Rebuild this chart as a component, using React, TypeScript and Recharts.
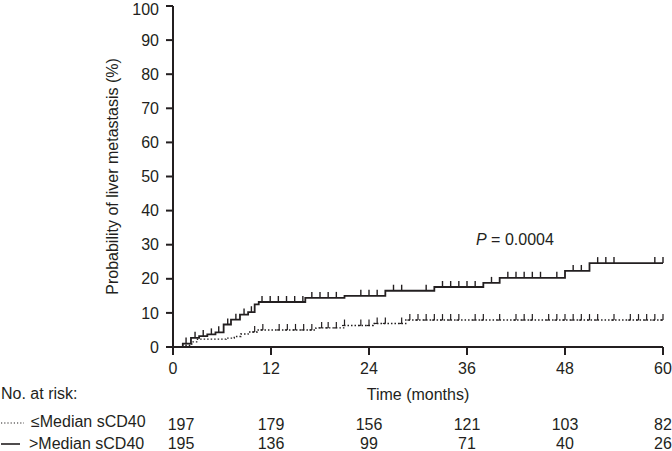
import React from "react";
import {
  ComposedChart,
  Line,
  Scatter,
  XAxis,
  YAxis,
} from "recharts";

// cumulative incidence (%) step points, >Median sCD40 (solid)
const highTimes = [0, 1.2, 2.2, 3.2, 4.2, 5.2, 6.2, 7.1, 8.2, 9.2, 10.0, 10.5, 16.2, 21.0, 26.0, 32.0, 38.0, 40.0, 48.0, 51.0, 60];
const highProb = [0, 1.0, 2.7, 3.2, 3.7, 4.3, 6.6, 8.0, 9.5, 10.2, 12.5, 13.2, 14.4, 15.0, 16.5, 17.6, 18.8, 20.3, 22.3, 24.6, 24.6];

// <=Median sCD40 (dotted)
const lowTimes = [0, 1.5, 2.3, 3.0, 6.5, 7.5, 8.3, 9.2, 10.3, 17.5, 21.0, 24.5, 28.5, 60];
const lowProb = [0, 0.5, 1.5, 2.3, 2.6, 3.1, 3.8, 4.4, 5.0, 5.6, 6.3, 6.9, 7.9, 7.9];

// censored observations (months)
const highCensor = [1.6, 2.7, 3.7, 4.7, 5.6, 6.7, 7.7, 8.7, 9.6, 10.9, 11.9, 12.9, 13.9, 14.9, 15.9, 17, 18, 19, 20, 23, 24, 25, 27, 28, 31, 33, 34, 35, 36, 37, 39, 41, 42, 43, 44, 45, 47, 49, 50, 52, 53, 54, 59, 60];
const lowCensor = [10, 11, 13, 14, 15, 16, 17, 18.2, 19, 20, 21, 23, 24, 25, 26, 28, 29, 30, 31, 32, 33, 34, 35, 37, 38, 40, 42, 43, 44, 46, 47, 48, 49, 50, 51, 52, 54, 56, 57, 58, 59, 60];

const months = [0, 12, 24, 36, 48, 60];
const atRiskLow = [197, 179, 156, 121, 103, 82];
const atRiskHigh = [195, 136, 99, 71, 40, 26];
const yTicks = [0, 10, 20, 30, 40, 50, 60, 70, 80, 90, 100];

const INK = "#231f20";
const FONT = "'Liberation Sans', Arial, Helvetica, sans-serif";

const toSeries = (ts: number[], ps: number[]) => ts.map((t, i) => ({ t, v: ps[i] }));

const stepAt = (ts: number[], ps: number[], t: number) => {
  let v = ps[0];
  for (let i = 0; i < ts.length; i++) if (ts[i] <= t) v = ps[i];
  return v;
};

const highData = toSeries(highTimes, highProb);
const lowData = toSeries(lowTimes, lowProb);
const highMarks = highCensor.map((t) => ({ t, v: stepAt(highTimes, highProb, t) }));
const lowMarks = lowCensor.map((t) => ({ t, v: stepAt(lowTimes, lowProb, t) }));
// anchors so the at-risk axes have something bound to them
const riskLowPts = months.map((t, i) => ({ t, v: 0, n: atRiskLow[i] }));
const riskHighPts = months.map((t, i) => ({ t, v: 0, n: atRiskHigh[i] }));

const SolidTick = (p: any) => (
  <line x1={p.cx} y1={p.cy} x2={p.cx} y2={p.cy - 6} stroke={INK} strokeWidth={1.4} />
);

const DotTick = (p: any) => (
  <g>
    <line x1={p.cx} y1={p.cy} x2={p.cx} y2={p.cy - 6} stroke={INK} strokeWidth={1.2} />
    <line x1={p.cx - 2.5} y1={p.cy} x2={p.cx} y2={p.cy} stroke={INK} strokeWidth={1.2} />
  </g>
);

const NoMark = () => <g />;

const YLabel = (props: any) => {
  const vb = props.viewBox || { x: 113, y: 6, width: 60, height: 341 };
  const x = vb.x + 5;
  const y = vb.y + vb.height / 2;
  return (
    <text
      x={x}
      y={y}
      transform={`rotate(-90, ${x}, ${y})`}
      textAnchor="middle"
      fontSize={16}
      fontFamily={FONT}
      fill={INK}
    >
      Probability of liver metastasis (%)
    </text>
  );
};

const riskTick = (counts: number[]) => (p: any) => {
  const i = months.indexOf(p.payload.value);
  return (
    <text
      x={p.x + (i === 0 ? 8 : 0)}
      y={p.y}
      dy="0.71em"
      textAnchor="middle"
      fontSize={16}
      fontFamily={FONT}
      fill={INK}
    >
      {counts[i]}
    </text>
  );
};

export default function App() {
  return (
    <div style={{ position: "absolute", left: 0, top: 0, width: 672, height: 451, background: "#fff" }}>
      <ComposedChart
        width={672}
        height={451}
        margin={{ top: 6, right: 9, bottom: 0, left: 113 }}
        style={{ fontFamily: FONT }}
      >
        <XAxis
          xAxisId="main"
          dataKey="t"
          type="number"
          domain={[0, 60]}
          ticks={months}
          height={60}
          tickSize={8}
          tickMargin={8}
          axisLine={{ stroke: INK, strokeWidth: 2 }}
          tickLine={{ stroke: INK, strokeWidth: 2 }}
          tick={{ fill: INK, fontSize: 16 }}
          label={{ value: "Time (months)", position: "insideBottom", offset: 7, fill: INK, fontSize: 16 }}
        />
        <XAxis
          xAxisId="r1"
          dataKey="t"
          type="number"
          domain={[0, 60]}
          ticks={months}
          height={24}
          tickSize={0}
          tickMargin={12}
          axisLine={false}
          tickLine={false}
          tick={riskTick(atRiskLow)}
        />
        <XAxis
          xAxisId="r2"
          dataKey="t"
          type="number"
          domain={[0, 60]}
          ticks={months}
          height={20}
          tickSize={0}
          tickMargin={7}
          axisLine={false}
          tickLine={false}
          tick={riskTick(atRiskHigh)}
        />
        <YAxis
          type="number"
          domain={[0, 100]}
          ticks={yTicks}
          width={60}
          tickSize={7}
          tickMargin={7}
          axisLine={{ stroke: INK, strokeWidth: 2 }}
          tickLine={{ stroke: INK, strokeWidth: 2 }}
          tick={{ fill: INK, fontSize: 16 }}
          label={<YLabel />}
        />
        <Scatter xAxisId="r1" data={riskLowPts} dataKey="v" shape={NoMark} isAnimationActive={false} />
        <Scatter xAxisId="r2" data={riskHighPts} dataKey="v" shape={NoMark} isAnimationActive={false} />
        <Line
          xAxisId="main"
          data={lowData}
          dataKey="v"
          type="stepAfter"
          stroke={INK}
          strokeWidth={1.4}
          strokeDasharray="1.5 2"
          dot={false}
          isAnimationActive={false}
        />
        <Line
          xAxisId="main"
          data={highData}
          dataKey="v"
          type="stepAfter"
          stroke={INK}
          strokeWidth={1.8}
          dot={false}
          isAnimationActive={false}
        />
        <Scatter xAxisId="main" data={lowMarks} dataKey="v" shape={DotTick} isAnimationActive={false} />
        <Scatter xAxisId="main" data={highMarks} dataKey="v" shape={SolidTick} isAnimationActive={false} />
      </ComposedChart>
      <svg
        width={672}
        height={451}
        style={{ position: "absolute", left: 0, top: 0, pointerEvents: "none" }}
        fontFamily={FONT}
        fontSize={16}
        fill={INK}
      >
        <text x={476} y={245}>
          <tspan fontStyle="italic">P</tspan> = 0.0004
        </text>
        <text x={1} y={399}>No. at risk:</text>
        <line x1={1} y1={423} x2={24} y2={423} stroke={INK} strokeWidth={1.2} strokeDasharray="1.2 2" />
        <text x={31} y={427}>≤Median sCD40</text>
        <line x1={1} y1={444} x2={20} y2={444} stroke={INK} strokeWidth={1.6} />
        <text x={29} y={449}>&gt;Median sCD40</text>
      </svg>
    </div>
  );
}
